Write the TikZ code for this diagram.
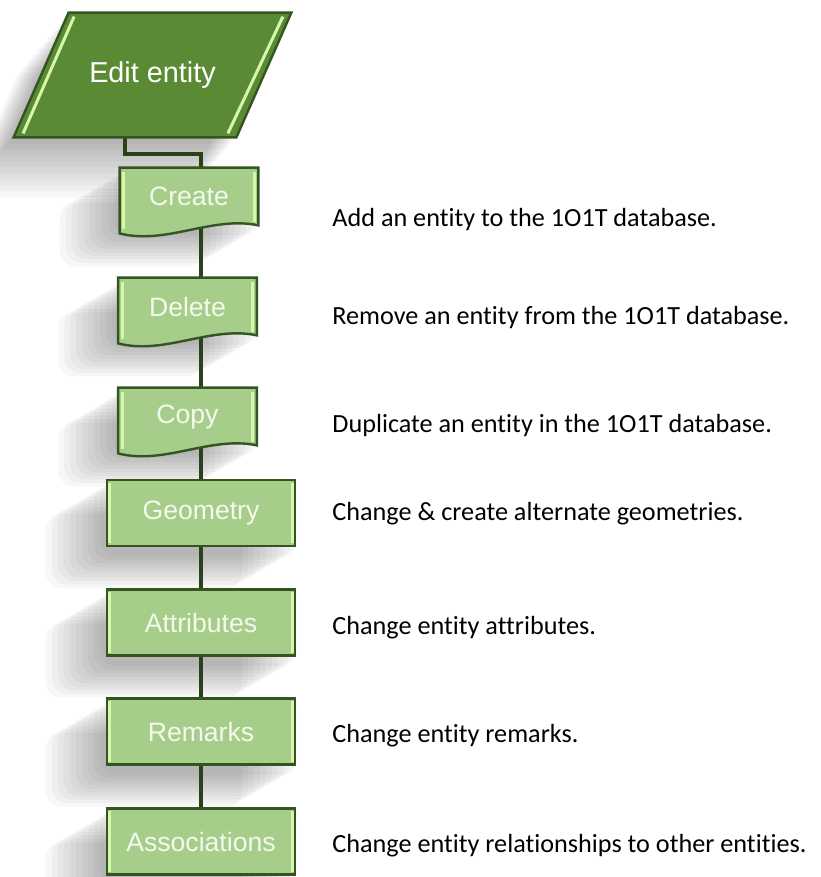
\documentclass[tikz,border=0pt]{standalone}
\usepackage{fontspec}
\setmainfont{Carlito}[Ligatures={NoCommon}]
\newfontfamily\boxfont{Liberation Sans}
\usepackage{tikz}
\usetikzlibrary{positioning, shapes.geometric, calc, backgrounds}
\definecolor{leaf}{RGB}{166, 206, 138}
\definecolor{leafdk}{RGB}{52, 84, 34}
\definecolor{moss}{RGB}{90, 139, 52}
\definecolor{shine}{RGB}{214, 246, 170}
\definecolor{stem}{RGB}{40, 66, 26}
\definecolor{boxtext}{RGB}{244, 249, 238}

\begin{document}
\begin{tikzpicture}[
    x=0.5pt, y=-0.5pt,
    stepbox/.style={rectangle, fill=leaf, draw=leafdk, line width=1.2pt, minimum width=94pt, minimum height=33pt, inner sep=0pt, font=\boxfont\fontsize{13.3}{16}\selectfont, text=boxtext},
    docbox/.style={rectangle, minimum width=69pt, minimum height=28.5pt, inner sep=0pt, font=\boxfont\fontsize{13.3}{16}\selectfont, text=boxtext},
    note/.style={anchor=base west, inner sep=0pt, font=\fontsize{13.1}{16}\selectfont},
    link/.style={draw=stem, line width=2pt}
  ]

  \useasboundingbox (0,0) rectangle (820,877);

  % Start shape (outline drawn below)
  \node[rectangle, minimum width=111pt, minimum height=62pt, inner sep=0pt, text=white,
        font=\boxfont\fontsize{14.4}{17}\selectfont] (edit) at (152.5,75) {Edit entity};

  % Document boxes
  \node[docbox] (create) at (189,196.5) {Create};
  \node[docbox] (delete) at (187.5,306.5) {Delete};
  \node[docbox] (copy) at (187.5,416.5) {Copy};

  % Process boxes
  \node[stepbox] (geometry) at (201,513) {Geometry};
  \node[stepbox] (attributes) at (201,622.5) {Attributes};
  \node[stepbox] (remarks) at (201,731.5) {Remarks};
  \node[stepbox] (assoc) at (201,841.5) {Associations};

  % Notes
  \node[note] (addnote) at (332,227) {Add an entity to the 1O1T database.};
  \node[note] (removenote) at (332,324) {Remove an entity from the 1O1T database.};
  \node[note] (dupnote) at (332,432) {Duplicate an entity in the 1O1T database.};
  \node[note] (geonote) at (332,520) {Change \& create alternate geometries.};
  \node[note] (attrnote) at (332,634) {Change entity attributes.};
  \node[note] (remnote) at (332,742) {Change entity remarks.};
  \node[note] (assocnote) at (332,852) {Change entity relationships to other entities.};

  \begin{scope}[on background layer]
    \fill[white] (0,0) rectangle (820,877);

    % Shadows
    \foreach \s in {1,...,10} {
      \fill[black, opacity=0.03] ($(edit.north west)+(27.5-5*\s,6*\s)$) -- ($(edit.north east)+(27.5-5*\s,6*\s)$)
        -- ($(edit.south east)+(-27.5-5*\s,6*\s)$) -- ($(edit.south west)+(-27.5-5*\s,6*\s)$) -- cycle;
    }
    \foreach \n in {create,delete,copy,geometry,attributes,remarks,assoc} {
      \foreach \s in {1,...,10} {
        \fill[black, opacity=0.03, rounded corners=8pt] ($(\n.north west)+(-6*\s,3.5*\s)$) rectangle ($(\n.south east)+(-6*\s+6,3.5*\s+6)$);
      }
    }

    % Links
    \draw[link] ($(edit.south)+(-27.5,0)$) -- ++(0,17) -| (create.north -| geometry.north);
    \foreach \a/\b in {create/delete, delete/copy, copy/geometry, geometry/attributes, attributes/remarks, remarks/assoc} {
      \draw[link] (\a.south -| geometry.north) -- (\b.north -| geometry.north);
    }

    % Start shape
    \draw[fill=moss, draw=leafdk, line width=1.2pt] ($(edit.north west)+(27.5,0)$) -- ($(edit.north east)+(27.5,0)$)
      -- ($(edit.south east)+(-27.5,0)$) -- ($(edit.south west)+(-27.5,0)$) -- cycle;

    % Document fills
    \foreach \n in {create,delete,copy} {
      \fill[leaf] (\n.north west) -- (\n.north east) -- (\n.south east)
        .. controls ($(\n.south east)+(-46,-10)$) and ($(\n.south west)+(46,20)$) .. ($(\n.south west)+(0,8)$) -- cycle;
    }
  \end{scope}

  % Bevel highlights
  \draw[shine, line width=1.5pt] ($(edit.south west)+(-18,-4)$) -- ($(edit.north west)+(33,4)$);
  \draw[shine, line width=1.5pt] ($(edit.south east)+(-36,-4)$) -- ($(edit.north east)+(19,4)$);
  \foreach \n in {create,delete,copy} {
    \draw[shine, line width=1.5pt] ($(\n.north west)+(4,4)$) -- ($(\n.south west)+(4,4)$);
    \draw[shine, line width=1.5pt] ($(\n.north east)+(-4,4)$) -- ($(\n.south east)+(-4,-3)$);
    \draw[leafdk, line width=1.2pt] (\n.north west) -- (\n.north east) -- (\n.south east)
      .. controls ($(\n.south east)+(-46,-10)$) and ($(\n.south west)+(46,20)$) .. ($(\n.south west)+(0,8)$) -- cycle;
  }
  \foreach \n in {geometry,attributes,remarks,assoc} {
    \draw[shine, line width=1.5pt] ($(\n.north west)+(4,4)$) -- ($(\n.south west)+(4,-4)$);
    \draw[shine, line width=1.5pt] ($(\n.north east)+(-4,4)$) -- ($(\n.south east)+(-4,-4)$);
  }

\end{tikzpicture}
\end{document}
